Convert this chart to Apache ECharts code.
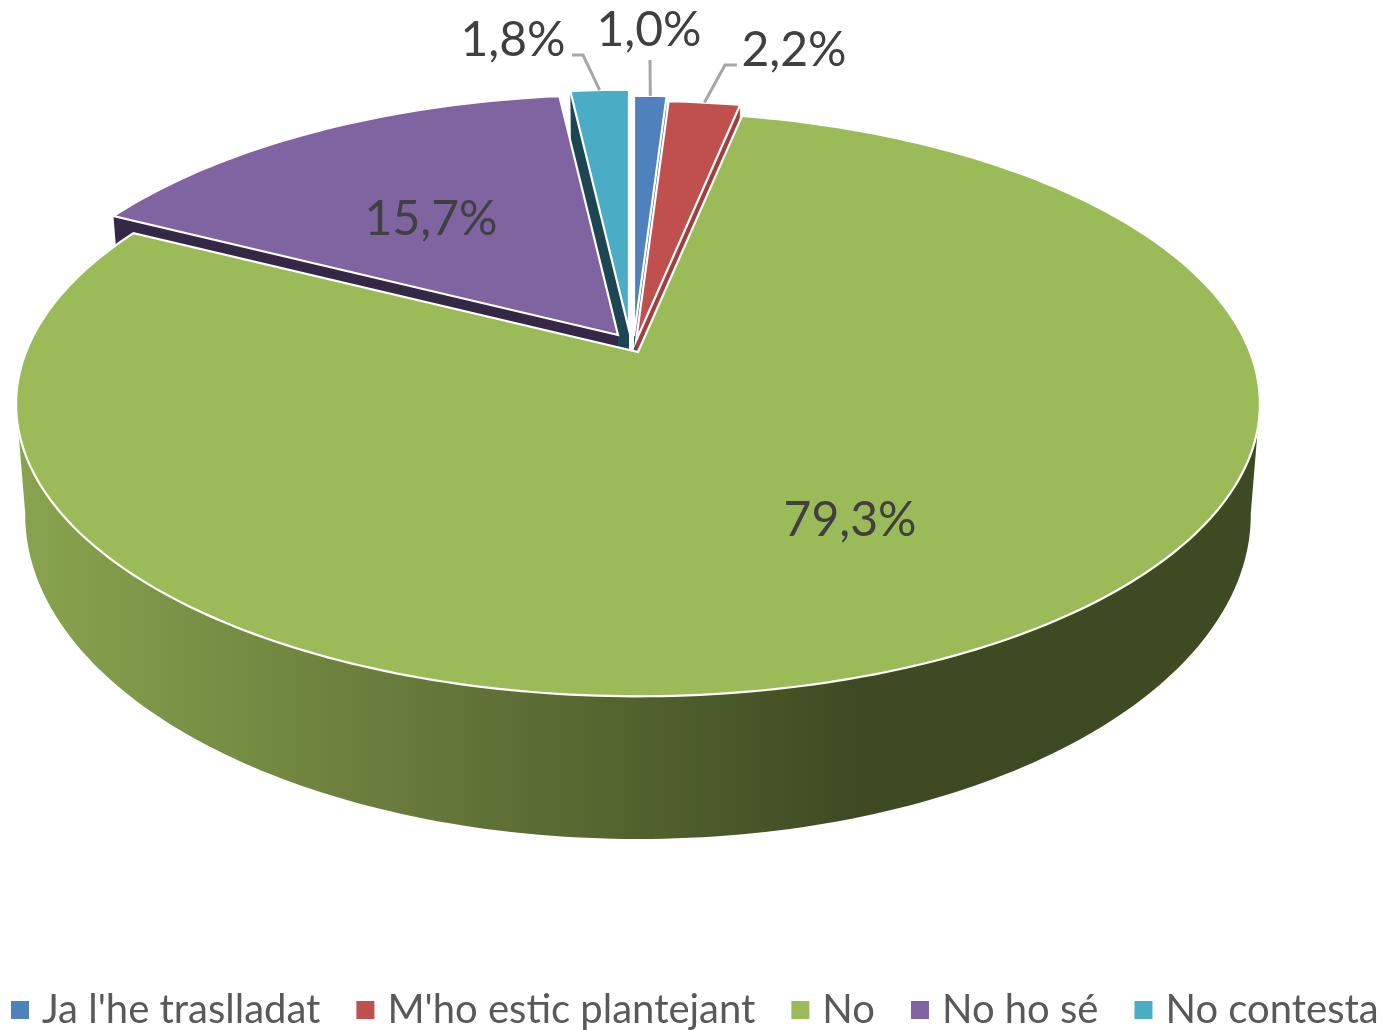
<!DOCTYPE html>
<html>
<head>
<meta charset="utf-8">
<title>Pastís 3D</title>
<script src="https://cdn.jsdelivr.net/npm/echarts@6/dist/echarts.min.js"></script>
<style>
  html, body { margin: 0; padding: 0; background: #fff; }
  #grafico { width: 1384px; height: 1030px; }
</style>
</head>
<body>
<div id="grafico"></div>
<script>
// Datos
const categorias = ["Ja l'he traslladat", "M'ho estic plantejant", 'No', 'No ho sé', 'No contesta'];
const valores = [1.0, 2.2, 79.3, 15.7, 1.8];

// Estilo por porción
const colores = ['#4f81bd', '#c0504d', '#9bbb59', '#8064a2', '#4bacc6'];
const coloresCara = ['#2f4d71', '#a03f3c', '#3f4a23', '#352846', '#1d4653'];
const ordenZ = [1, 2, 4, 3, 2];
// desplazamiento de cada porción separada
const separacion = [[-4, -16], [-2, -11], [0, 0], [-20, -17], [-9, -22]];
// etiquetas: centro del texto y codo de la línea guía (null = dentro de la porción)
const posEtiqueta = [[649, 31], [794, 51], [850, 521], [431, 220], [513, 41]];
const guias = [
  [[650, 60]],
  [[725, 65], [737, 65]],
  null,
  null,
  [[583, 55], [572, 55]]
];

// Perspectiva: círculo de la tapa y de la base
const k = 0.178;
const tapa = { cx: 638, cy: 352, a: 612, b: 283 };
const base = { cx: 638, cy: 457, a: 603, b: 314 };

const total = valores.reduce((s, v) => s + v, 0);

function punto(plano, angulo, radio, sep) {
  const t = angulo * Math.PI / 180;
  const X = radio * Math.sin(t);
  const Z = radio * Math.cos(t);
  const d = 1 + k * Z;
  return [plano.cx + sep[0] + plano.a * X / d, plano.cy + sep[1] - plano.b * Z / d];
}

function arco(plano, a0, a1, sep) {
  const pts = [];
  const pasos = Math.max(2, Math.ceil(Math.abs(a1 - a0)));
  for (let i = 0; i <= pasos; i++) {
    pts.push(punto(plano, a0 + (a1 - a0) * i / pasos, 1, sep));
  }
  return pts;
}

function caraRadial(angulo, sep, color) {
  return {
    type: 'polygon',
    shape: { points: [punto(tapa, angulo, 0, sep), punto(tapa, angulo, 1, sep), punto(base, angulo, 1, sep), punto(base, angulo, 0, sep)] },
    style: { fill: color }
  };
}

function dibujarPorcion(i, api) {
  const previo = valores.slice(0, i).reduce((s, v) => s + v, 0);
  const a0 = previo / total * 360;
  const a1 = a0 + api.value(0) / total * 360;
  const sep = separacion[i];
  const hijos = [];

  // caras radiales visibles
  if (Math.sin(a0 * Math.PI / 180) < -0.001) hijos.push(caraRadial(a0, sep, coloresCara[i]));
  if (Math.sin(a1 * Math.PI / 180) > 0.001) hijos.push(caraRadial(a1, sep, coloresCara[i]));

  // pared exterior, solo la parte frontal
  const p0 = Math.max(a0, 100);
  const p1 = Math.min(a1, 260);
  if (p1 > p0) {
    hijos.push({
      type: 'polygon',
      shape: { points: arco(tapa, p0, p1, sep).concat(arco(base, p1, p0, sep)) },
      style: {
        fill: new echarts.graphic.LinearGradient(0, 0, 1, 0, [
          { offset: 0, color: '#89a44f' },
          { offset: 0.68, color: '#3e4a22' },
          { offset: 1, color: '#3e4a22' }
        ])
      }
    });
  }

  // tapa
  hijos.push({
    type: 'polygon',
    shape: { points: [punto(tapa, 0, 0, sep)].concat(arco(tapa, a0, a1, sep)) },
    style: { fill: colores[i], stroke: '#fff', lineWidth: 2.2, lineJoin: 'miter' }
  });

  // línea guía
  if (guias[i]) {
    hijos.push({
      type: 'polyline',
      shape: { points: [punto(tapa, (a0 + a1) / 2, 1, sep)].concat(guias[i]) },
      style: { fill: null, stroke: '#a6a6a6', lineWidth: 3 }
    });
  }

  // etiqueta
  hijos.push({
    type: 'text',
    style: {
      text: api.value(0).toFixed(1).replace('.', ',') + '%',
      x: posEtiqueta[i][0],
      y: posEtiqueta[i][1],
      fill: '#404040',
      font: '48px Lato',
      textAlign: 'center',
      textVerticalAlign: 'middle'
    }
  });

  return { type: 'group', children: hijos };
}

const grafico = echarts.init(document.getElementById('grafico'), null, { renderer: 'canvas' });

grafico.setOption({
  animation: false,
  legend: {
    data: categorias,
    left: 6,
    top: 985,
    icon: 'rect',
    itemWidth: 18,
    itemHeight: 18,
    itemGap: 36,
    selectedMode: false,
    textStyle: { fontFamily: 'Lato', fontSize: 40, color: '#595959', padding: [0, 0, 0, 8] }
  },
  series: categorias.map((nombre, i) => ({
    type: 'custom',
    name: nombre,
    coordinateSystem: 'none',
    z: ordenZ[i],
    silent: true,
    itemStyle: { color: colores[i] },
    data: [[valores[i]]],
    renderItem: (params, api) => dibujarPorcion(i, api)
  }))
});
</script>
</body>
</html>
